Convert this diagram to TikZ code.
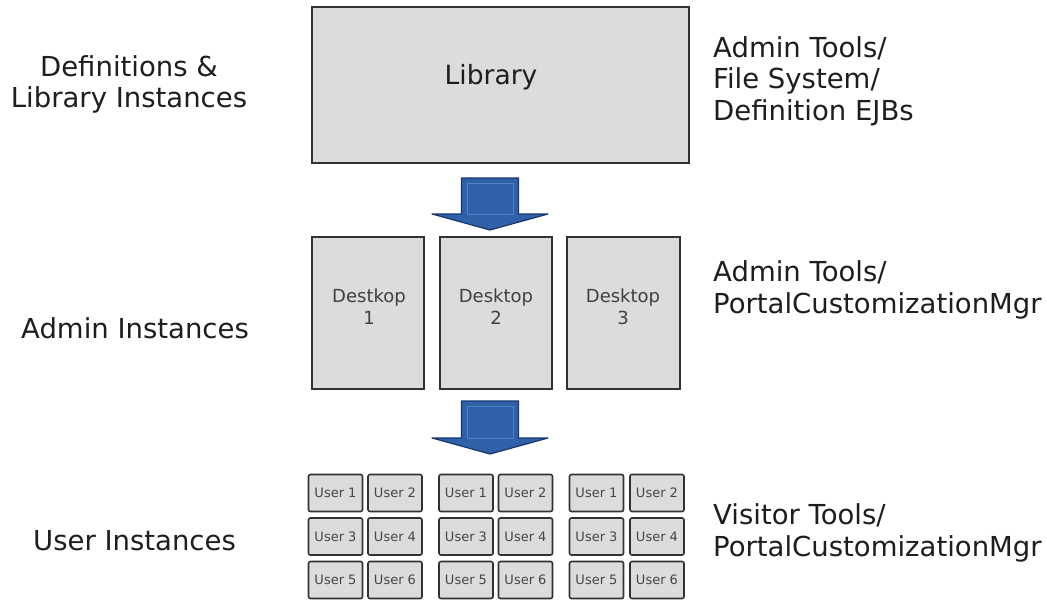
\documentclass[tikz,border=0pt]{standalone}
\usepackage{fontspec}
\setmainfont{DejaVu Sans}
\definecolor{boxfill}{RGB}{220,220,220}
\definecolor{boxline}{RGB}{50,50,50}
\definecolor{arrowfill}{RGB}{48,96,168}
\definecolor{arrowline}{RGB}{25,55,110}
\definecolor{arrowinner}{RGB}{80,130,200}
\definecolor{txt}{RGB}{30,30,30}
\definecolor{utxt}{RGB}{70,70,70}
\begin{document}
\begin{tikzpicture}[x=1pt,y=-1pt,
  bigbox/.style={draw=boxline,fill=boxfill,line width=1.5pt,inner sep=0pt},
  userbox/.style={draw=boxline,fill=boxfill,line width=1.6pt,rounded corners=2pt,minimum width=54pt,minimum height=37pt,inner sep=0pt,text=utxt,font=\fontsize{13}{15}\selectfont},
  lbl/.style={text=txt,font=\fontsize{27.5}{31}\selectfont,align=center,inner sep=0pt},
  rlbl/.style={text=txt,font=\fontsize{27.5}{31.5}\selectfont,align=left,anchor=west,inner sep=0pt},
  dtxt/.style={text=txt!85,font=\fontsize{18}{22}\selectfont,align=center,inner sep=0pt},
  bigarrow/.style={fill=arrowfill,draw=arrowline,line width=1.2pt,line join=round}]
\fill[white] (0,0) rectangle (1047,600);
\useasboundingbox (0,0) rectangle (1047,600);

% Library
\node[bigbox,minimum width=377pt,minimum height=156pt] (lib) at (500.5,85) {};
\node[text=txt,font=\fontsize{26.5}{31}\selectfont,inner sep=0pt] (libt) at (491,77) {Library};

% Desktops
\node[bigbox,minimum width=112pt,minimum height=152pt] (d1) at (368,313) {};
\node[bigbox,minimum width=112pt,minimum height=152pt] (d2) at (496,313) {};
\node[bigbox,minimum width=113pt,minimum height=152pt] (d3) at (623.5,313) {};
\node[dtxt] (d1t) at (369,307) {Destkop\\1};
\node[dtxt] (d2t) at (496,307) {Desktop\\2};
\node[dtxt] (d3t) at (623,307) {Desktop\\3};

% Arrows
\coordinate (a1) at (490,178);
\coordinate (a2) at (490,401);
\foreach \c/\h in {a1/36,a2/37}{
  \draw[bigarrow] (\c) ++(-28.5,0) -- ++(57,0) -- ++(0,\h) -- ++(29.5,0)
     -- ++(-58,16) -- ++(-58,-16) -- ++(29.5,0) -- cycle;
  \draw[arrowinner,line width=0.8pt] (\c) ++(-23,5) rectangle ++(46,\h-5);
}

% Users
\foreach \g/\xa/\xb in {1/335.5/395,2/466/525.5,3/596.5/657}{
  \node[userbox] (u\g-1) at (\xa,493) {User 1};
  \node[userbox] (u\g-2) at (\xb,493) {User 2};
  \node[userbox] (u\g-3) at (\xa,536.5) {User 3};
  \node[userbox] (u\g-4) at (\xb,536.5) {User 4};
  \node[userbox] (u\g-5) at (\xa,580) {User 5};
  \node[userbox] (u\g-6) at (\xb,580) {User 6};
}

% Left labels
\node[lbl] (l1) at (129,84) {Definitions \&\\Library Instances};
\node[lbl] (l2) at (135,328) {Admin Instances};
\node[lbl] (l3) at (134.5,541) {User Instances};

% Right labels
\node[rlbl] (r1) at (713,81) {Admin Tools/\\File System/\\Definition EJBs};
\node[rlbl] (r2) at (713,290) {Admin Tools/\\PortalCustomizationMgr};
\node[rlbl] (r3) at (713,533) {Visitor Tools/\\PortalCustomizationMgr};
\end{tikzpicture}
\end{document}
